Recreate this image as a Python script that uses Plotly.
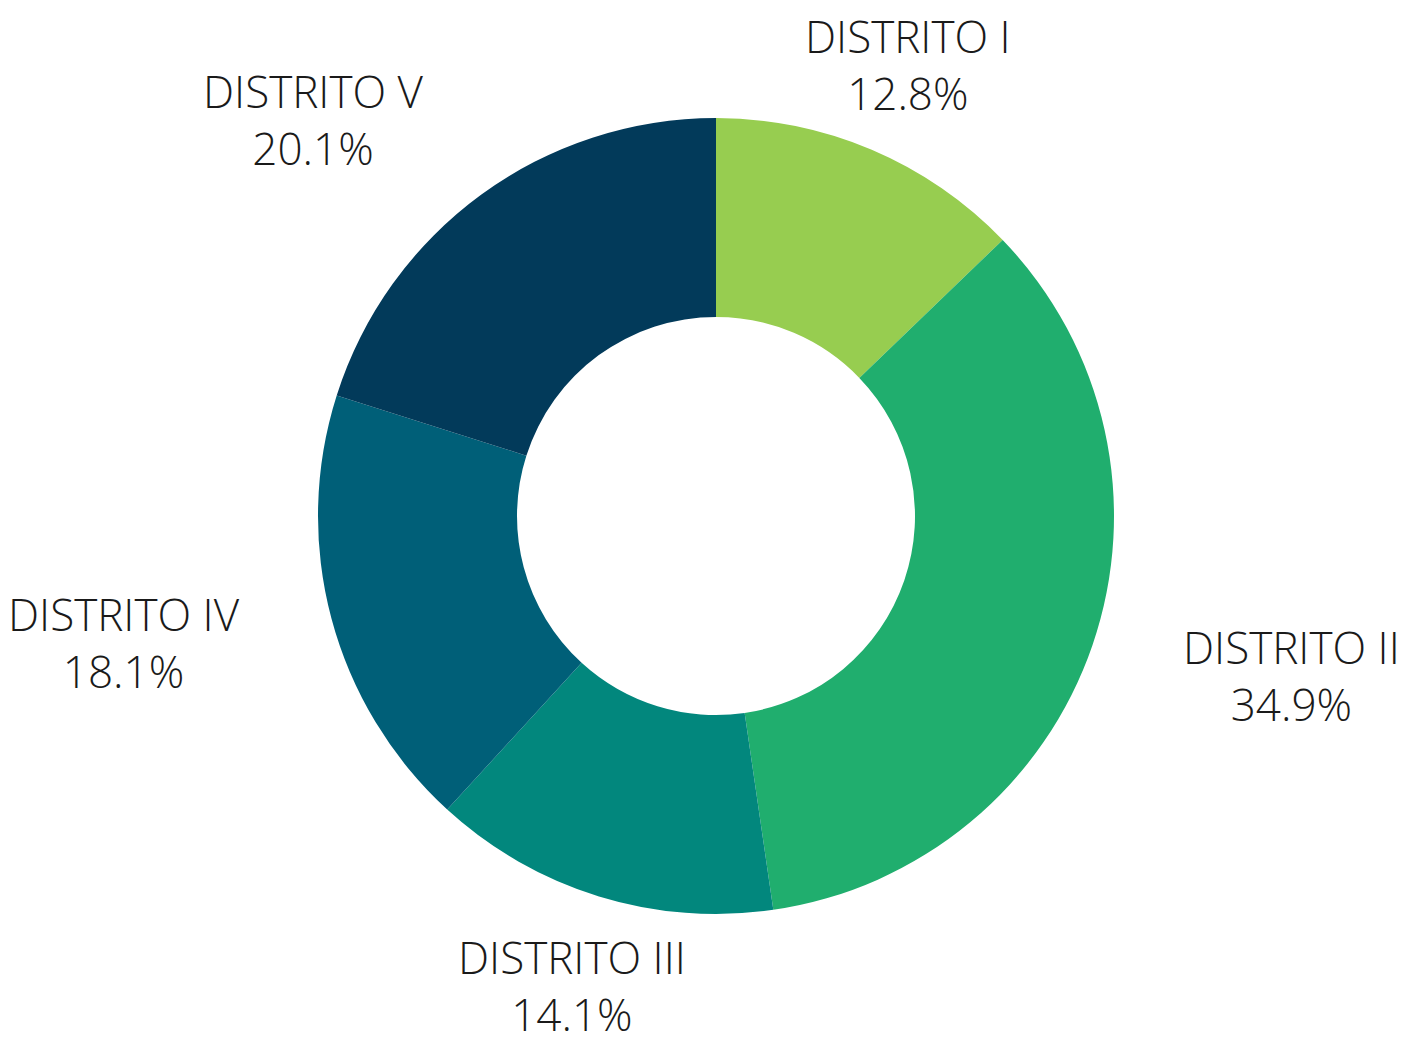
import math
import plotly.graph_objects as go

# Dados
distritos = ["DISTRITO I", "DISTRITO II", "DISTRITO III", "DISTRITO IV", "DISTRITO V"]
percentuais = [12.8, 34.9, 14.1, 18.1, 20.1]
cores = ["#97cd50", "#20ae6e", "#02877d", "#005f78", "#023a5a"]

W, H = 1415, 1037
CX, CY, R = 716, 516, 398   # centro e raio do donut (px)
R_LABEL = 491               # distancia dos rotulos

fig = go.Figure(go.Pie(
    labels=distritos,
    values=percentuais,
    hole=0.5,
    sort=False,
    direction="clockwise",
    rotation=0,
    marker=dict(colors=cores, line=dict(width=0)),
    textinfo="none",
    hoverinfo="label+percent",
    domain=dict(x=[(CX - R) / W, (CX + R) / W],
                y=[(H - CY - R) / H, (H - CY + R) / H]),
))

# Rotulos externos posicionados pelo angulo medio de cada fatia
fonte = dict(family="Open Sans", size=44, color="#1a1a1a", weight=300)
total = sum(percentuais)
acum = 0
for nome, v in zip(distritos, percentuais):
    meio = (acum + v / 2) / total * 2 * math.pi
    acum += v
    s, c = math.sin(meio), math.cos(meio)
    px_ = CX + R_LABEL * s
    py_ = CY - R_LABEL * c
    if s > 0.5:
        xa = "left"
    elif s < -0.5:
        xa = "right"
    else:
        xa = "center"
    fig.add_annotation(
        x=px_ / W, y=1 - py_ / H, xref="paper", yref="paper",
        text=f"{nome}<br>{v:.1f}%", align="center",
        showarrow=False, xanchor=xa, yanchor="middle",
        font=fonte,
    )

fig.update_layout(
    width=W, height=H,
    margin=dict(l=0, r=0, t=0, b=0),
    paper_bgcolor="white",
    plot_bgcolor="white",
    showlegend=False,
)

# tira a margem padrao do body para a figura ocupar a janela inteira
fig.write_html(
    "out.html",
    config={"displayModeBar": False},
    post_script="document.body.style.margin='0';",
)
